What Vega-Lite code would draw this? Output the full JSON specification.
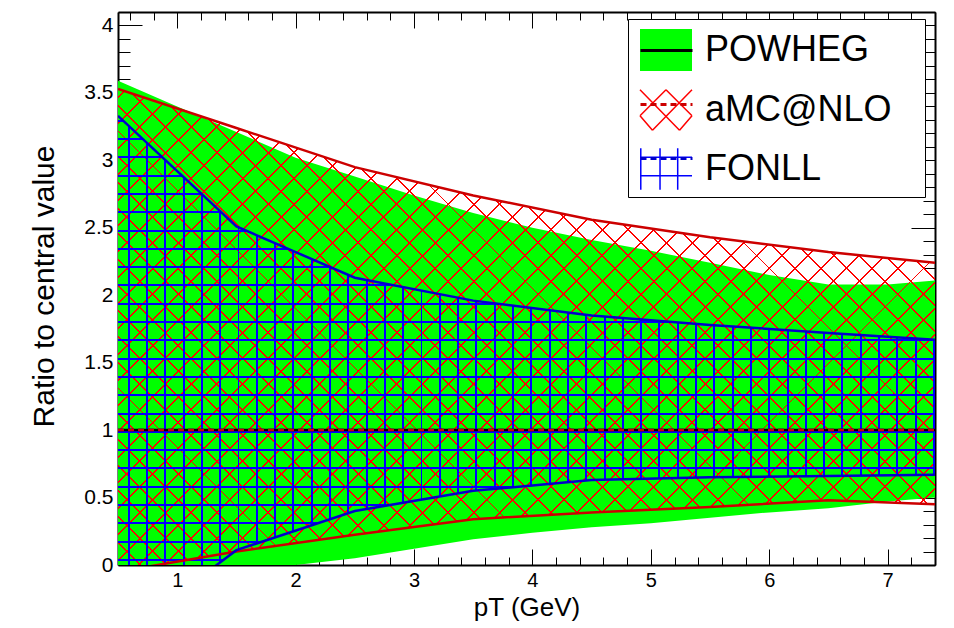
{
  "$schema": "https://vega.github.io/schema/vega-lite/v6.json",
  "width": 817,
  "height": 553,
  "autosize": {"type": "none"},
  "padding": {"left": 118, "top": 12, "right": 19, "bottom": 63},
  "background": "white",
  "config": {"view": {"stroke": null}, "font": "Liberation Sans", "axis": {"grid": false}},
  "datasets": {
    "bands": [
      {"model": "POWHEG", "pt": 0.5, "lo": 0, "hi": 3.59},
      {"model": "POWHEG", "pt": 1, "lo": 0, "hi": 3.4},
      {"model": "POWHEG", "pt": 1.5, "lo": 0, "hi": 3.21},
      {"model": "POWHEG", "pt": 2, "lo": 0, "hi": 3.02},
      {"model": "POWHEG", "pt": 2.5, "lo": 0.05, "hi": 2.88},
      {"model": "POWHEG", "pt": 3, "lo": 0.12, "hi": 2.74},
      {"model": "POWHEG", "pt": 3.5, "lo": 0.19, "hi": 2.61},
      {"model": "POWHEG", "pt": 4, "lo": 0.24, "hi": 2.5},
      {"model": "POWHEG", "pt": 4.5, "lo": 0.28, "hi": 2.41},
      {"model": "POWHEG", "pt": 5, "lo": 0.31, "hi": 2.33},
      {"model": "POWHEG", "pt": 5.5, "lo": 0.35, "hi": 2.24},
      {"model": "POWHEG", "pt": 6, "lo": 0.39, "hi": 2.15},
      {"model": "POWHEG", "pt": 6.5, "lo": 0.42, "hi": 2.08},
      {"model": "POWHEG", "pt": 7, "lo": 0.47, "hi": 2.08},
      {"model": "POWHEG", "pt": 7.4, "lo": 0.5, "hi": 2.11},
      {"model": "aMC@NLO", "pt": 0.5, "lo": -0.05, "hi": 3.53},
      {"model": "aMC@NLO", "pt": 1.5, "lo": 0.1, "hi": 3.24},
      {"model": "aMC@NLO", "pt": 2.5, "lo": 0.225, "hi": 2.95},
      {"model": "aMC@NLO", "pt": 3.5, "lo": 0.34, "hi": 2.74},
      {"model": "aMC@NLO", "pt": 4.5, "lo": 0.39, "hi": 2.56},
      {"model": "aMC@NLO", "pt": 5.5, "lo": 0.43, "hi": 2.43},
      {"model": "aMC@NLO", "pt": 6.5, "lo": 0.48, "hi": 2.32},
      {"model": "aMC@NLO", "pt": 7.4, "lo": 0.45, "hi": 2.24},
      {"model": "FONLL", "pt": 0.5, "lo": -0.55, "hi": 3.33},
      {"model": "FONLL", "pt": 1.5, "lo": 0.11, "hi": 2.51},
      {"model": "FONLL", "pt": 2.5, "lo": 0.4, "hi": 2.13},
      {"model": "FONLL", "pt": 3.5, "lo": 0.55, "hi": 1.96},
      {"model": "FONLL", "pt": 4.5, "lo": 0.63, "hi": 1.85},
      {"model": "FONLL", "pt": 5.5, "lo": 0.65, "hi": 1.78},
      {"model": "FONLL", "pt": 6.5, "lo": 0.66, "hi": 1.72},
      {"model": "FONLL", "pt": 7.4, "lo": 0.67, "hi": 1.67}
    ]
  },
  "data": {"name": "bands"},
  "layer": [
    {
      "transform": [{"filter": "datum.model === 'POWHEG'"}],
      "mark": {"type": "area", "clip": true, "opacity": 1},
      "encoding": {
        "x": {"field": "pt", "type": "quantitative", "scale": {"domain": [0.5, 7.4], "nice": false, "zero": false},
          "axis": {"orient": "bottom", "values": [0.6,0.8,1,1.2,1.4,1.6,1.8,2,2.2,2.4,2.6,2.8,3,3.2,3.4,3.6,3.8,4,4.2,4.4,4.6,4.8,5,5.2,5.4,5.6,5.8,6,6.2,6.4,6.6,6.8,7,7.2,7.4],
            "format": "~g", "labelExpr": "datum.value % 1 === 0 ? datum.label : ''",
            "tickSize": {"condition": {"test": "datum.value % 1 === 0", "value": -16}, "value": -8},
            "tickColor": "black", "tickWidth": 1, "domainColor": "black", "domainWidth": 2,
            "labelFontSize": 20, "labelColor": "black", "labelBaseline": "alphabetic", "labelAlign": "center", "labelPadding": 37,
            "labelFlush": false, "labelOverlap": false,
            "title": "pT (GeV)", "titleFontSize": 26, "titleFontWeight": "normal", "titleColor": "black",
            "titleX": 408.5, "titleY": 50, "titleBaseline": "alphabetic", "titleAlign": "center", "grid": false}},
        "y": {"field": "lo", "type": "quantitative", "scale": {"domain": [0, 4.1], "nice": false, "zero": false},
          "axis": {"orient": "left", "values": [0,0.1,0.2,0.3,0.4,0.5,0.6,0.7,0.8,0.9,1,1.1,1.2,1.3,1.4,1.5,1.6,1.7,1.8,1.9,2,2.1,2.2,2.3,2.4,2.5,2.6,2.7,2.8,2.9,3,3.1,3.2,3.3,3.4,3.5,3.6,3.7,3.8,3.9,4,4.1],
            "format": "~g", "labelExpr": "datum.value * 2 % 1 === 0 ? datum.label : ''",
            "tickSize": {"condition": {"test": "datum.value * 2 % 1 === 0", "value": -24}, "value": -12},
            "tickColor": "black", "tickWidth": 1, "domainColor": "black", "domainWidth": 2,
            "labelFontSize": 21, "labelColor": "black", "labelPadding": 29, "labelAlign": "right", "labelBaseline": "middle",
            "labelFlush": false, "labelOverlap": false,
            "title": "Ratio to central value", "titleFontSize": 30, "titleFontWeight": "normal", "titleColor": "black",
            "titleX": -65, "titleY": 274, "titleAngle": -90, "titleBaseline": "alphabetic", "titleAlign": "center", "grid": false}},
        "y2": {"field": "hi"},
        "fill": {"field": "model", "type": "nominal",
          "scale": {"domain": ["POWHEG", "FONLL", "aMC@NLO"], "range": ["#00ff00", "#ffffff", "#ffffff"]},
          "legend": {"orient": "none", "legendX": 510, "legendY": 7, "values": ["POWHEG", "aMC@NLO", "FONLL"],
            "title": "\u2800", "titleOrient": "right", "titlePadding": 3, "titleFontSize": 36, "titleFontWeight": "normal", "titleColor": "white",
            "symbolSize": 2704, "symbolOpacity": 1, "labelFontSize": 36, "labelLimit": 400, "labelOffset": 12, "labelColor": "black",
            "rowPadding": 8, "padding": 4, "symbolOffset": 7, "fillColor": "white", "strokeColor": "black", "zindex": 1,
            "encode": {"symbols": {"update": {
              "shape": [
                {"test": "datum.value === 'POWHEG'", "value": "M-1,-0.81H1V0.81H-1Z"},
                {"test": "datum.value === 'aMC@NLO'", "value": "M-1,-0.78L0.52,0.78M0,-0.78L1,0.22M1,-0.78L-0.52,0.78M0,-0.78L-1,0.22M-1,0.22L-0.52,0.78M1,0.22L0.52,0.78"},
                {"value": "M-0.97,-0.8V0.8M-0.23,-0.8V0.8M0.45,-0.8V0.8M-1,-0.45H1M-1,0.26H1"}],
              "stroke": [
                {"test": "datum.value === 'POWHEG'", "value": "transparent"},
                {"test": "datum.value === 'aMC@NLO'", "value": "#ff0000"},
                {"value": "#0000ff"}],
              "strokeWidth": {"value": 1.5},
              "opacity": {"value": 1}
            }}}}}
      }
    },
    {
      "transform": [{"filter": "datum.model === 'aMC@NLO'"}],
      "mark": {"type": "area", "clip": true, "fill": {"gradient": "linear", "x1": 0, "y1": 0, "x2": 1.1792, "y2": 0.6969, "stops": [
        {"offset":0.0058,"color":"transparent"},{"offset":0.0058,"color":"red"},{"offset":0.0073,"color":"red"},{"offset":0.0073,"color":"transparent"},
        {"offset":0.0256,"color":"transparent"},{"offset":0.0256,"color":"red"},{"offset":0.0271,"color":"red"},{"offset":0.0271,"color":"transparent"},
        {"offset":0.0454,"color":"transparent"},{"offset":0.0454,"color":"red"},{"offset":0.0469,"color":"red"},{"offset":0.0469,"color":"transparent"},
        {"offset":0.0652,"color":"transparent"},{"offset":0.0652,"color":"red"},{"offset":0.0667,"color":"red"},{"offset":0.0667,"color":"transparent"},
        {"offset":0.0849,"color":"transparent"},{"offset":0.0849,"color":"red"},{"offset":0.0864,"color":"red"},{"offset":0.0864,"color":"transparent"},
        {"offset":0.1047,"color":"transparent"},{"offset":0.1047,"color":"red"},{"offset":0.1062,"color":"red"},{"offset":0.1062,"color":"transparent"},
        {"offset":0.1245,"color":"transparent"},{"offset":0.1245,"color":"red"},{"offset":0.126,"color":"red"},{"offset":0.126,"color":"transparent"},
        {"offset":0.1442,"color":"transparent"},{"offset":0.1442,"color":"red"},{"offset":0.1457,"color":"red"},{"offset":0.1457,"color":"transparent"},
        {"offset":0.164,"color":"transparent"},{"offset":0.164,"color":"red"},{"offset":0.1655,"color":"red"},{"offset":0.1655,"color":"transparent"},
        {"offset":0.1838,"color":"transparent"},{"offset":0.1838,"color":"red"},{"offset":0.1853,"color":"red"},{"offset":0.1853,"color":"transparent"},
        {"offset":0.2036,"color":"transparent"},{"offset":0.2036,"color":"red"},{"offset":0.2051,"color":"red"},{"offset":0.2051,"color":"transparent"},
        {"offset":0.2233,"color":"transparent"},{"offset":0.2233,"color":"red"},{"offset":0.2248,"color":"red"},{"offset":0.2248,"color":"transparent"},
        {"offset":0.2431,"color":"transparent"},{"offset":0.2431,"color":"red"},{"offset":0.2446,"color":"red"},{"offset":0.2446,"color":"transparent"},
        {"offset":0.2629,"color":"transparent"},{"offset":0.2629,"color":"red"},{"offset":0.2644,"color":"red"},{"offset":0.2644,"color":"transparent"},
        {"offset":0.2826,"color":"transparent"},{"offset":0.2826,"color":"red"},{"offset":0.2841,"color":"red"},{"offset":0.2841,"color":"transparent"},
        {"offset":0.3024,"color":"transparent"},{"offset":0.3024,"color":"red"},{"offset":0.3039,"color":"red"},{"offset":0.3039,"color":"transparent"},
        {"offset":0.3222,"color":"transparent"},{"offset":0.3222,"color":"red"},{"offset":0.3237,"color":"red"},{"offset":0.3237,"color":"transparent"},
        {"offset":0.342,"color":"transparent"},{"offset":0.342,"color":"red"},{"offset":0.3435,"color":"red"},{"offset":0.3435,"color":"transparent"},
        {"offset":0.3617,"color":"transparent"},{"offset":0.3617,"color":"red"},{"offset":0.3632,"color":"red"},{"offset":0.3632,"color":"transparent"},
        {"offset":0.3815,"color":"transparent"},{"offset":0.3815,"color":"red"},{"offset":0.383,"color":"red"},{"offset":0.383,"color":"transparent"},
        {"offset":0.4013,"color":"transparent"},{"offset":0.4013,"color":"red"},{"offset":0.4028,"color":"red"},{"offset":0.4028,"color":"transparent"},
        {"offset":0.421,"color":"transparent"},{"offset":0.421,"color":"red"},{"offset":0.4225,"color":"red"},{"offset":0.4225,"color":"transparent"},
        {"offset":0.4408,"color":"transparent"},{"offset":0.4408,"color":"red"},{"offset":0.4423,"color":"red"},{"offset":0.4423,"color":"transparent"},
        {"offset":0.4606,"color":"transparent"},{"offset":0.4606,"color":"red"},{"offset":0.4621,"color":"red"},{"offset":0.4621,"color":"transparent"},
        {"offset":0.4804,"color":"transparent"},{"offset":0.4804,"color":"red"},{"offset":0.4819,"color":"red"},{"offset":0.4819,"color":"transparent"},
        {"offset":0.5001,"color":"transparent"},{"offset":0.5001,"color":"red"},{"offset":0.5016,"color":"red"},{"offset":0.5016,"color":"transparent"},
        {"offset":0.5199,"color":"transparent"},{"offset":0.5199,"color":"red"},{"offset":0.5214,"color":"red"},{"offset":0.5214,"color":"transparent"},
        {"offset":0.5397,"color":"transparent"},{"offset":0.5397,"color":"red"},{"offset":0.5412,"color":"red"},{"offset":0.5412,"color":"transparent"},
        {"offset":0.5594,"color":"transparent"},{"offset":0.5594,"color":"red"},{"offset":0.5609,"color":"red"},{"offset":0.5609,"color":"transparent"},
        {"offset":0.5792,"color":"transparent"},{"offset":0.5792,"color":"red"},{"offset":0.5807,"color":"red"},{"offset":0.5807,"color":"transparent"},
        {"offset":0.599,"color":"transparent"},{"offset":0.599,"color":"red"},{"offset":0.6005,"color":"red"},{"offset":0.6005,"color":"transparent"},
        {"offset":0.6187,"color":"transparent"},{"offset":0.6187,"color":"red"},{"offset":0.6202,"color":"red"},{"offset":0.6202,"color":"transparent"},
        {"offset":0.6385,"color":"transparent"},{"offset":0.6385,"color":"red"},{"offset":0.64,"color":"red"},{"offset":0.64,"color":"transparent"},
        {"offset":0.6583,"color":"transparent"},{"offset":0.6583,"color":"red"},{"offset":0.6598,"color":"red"},{"offset":0.6598,"color":"transparent"},
        {"offset":0.6781,"color":"transparent"},{"offset":0.6781,"color":"red"},{"offset":0.6796,"color":"red"},{"offset":0.6796,"color":"transparent"},
        {"offset":0.6978,"color":"transparent"},{"offset":0.6978,"color":"red"},{"offset":0.6993,"color":"red"},{"offset":0.6993,"color":"transparent"},
        {"offset":0.7176,"color":"transparent"},{"offset":0.7176,"color":"red"},{"offset":0.7191,"color":"red"},{"offset":0.7191,"color":"transparent"},
        {"offset":0.7374,"color":"transparent"},{"offset":0.7374,"color":"red"},{"offset":0.7389,"color":"red"},{"offset":0.7389,"color":"transparent"},
        {"offset":0.7571,"color":"transparent"},{"offset":0.7571,"color":"red"},{"offset":0.7586,"color":"red"},{"offset":0.7586,"color":"transparent"},
        {"offset":0.7769,"color":"transparent"},{"offset":0.7769,"color":"red"},{"offset":0.7784,"color":"red"},{"offset":0.7784,"color":"transparent"},
        {"offset":0.7967,"color":"transparent"},{"offset":0.7967,"color":"red"},{"offset":0.7982,"color":"red"},{"offset":0.7982,"color":"transparent"},
        {"offset":0.8165,"color":"transparent"},{"offset":0.8165,"color":"red"},{"offset":0.818,"color":"red"},{"offset":0.818,"color":"transparent"},
        {"offset":0.8362,"color":"transparent"},{"offset":0.8362,"color":"red"},{"offset":0.8377,"color":"red"},{"offset":0.8377,"color":"transparent"},
        {"offset":0.856,"color":"transparent"},{"offset":0.856,"color":"red"},{"offset":0.8575,"color":"red"},{"offset":0.8575,"color":"transparent"},
        {"offset":0.8758,"color":"transparent"},{"offset":0.8758,"color":"red"},{"offset":0.8773,"color":"red"},{"offset":0.8773,"color":"transparent"},
        {"offset":0.8955,"color":"transparent"},{"offset":0.8955,"color":"red"},{"offset":0.897,"color":"red"},{"offset":0.897,"color":"transparent"},
        {"offset":0.9153,"color":"transparent"},{"offset":0.9153,"color":"red"},{"offset":0.9168,"color":"red"},{"offset":0.9168,"color":"transparent"},
        {"offset":0.9351,"color":"transparent"},{"offset":0.9351,"color":"red"},{"offset":0.9366,"color":"red"},{"offset":0.9366,"color":"transparent"},
        {"offset":0.9549,"color":"transparent"},{"offset":0.9549,"color":"red"},{"offset":0.9564,"color":"red"},{"offset":0.9564,"color":"transparent"},
        {"offset":0.9746,"color":"transparent"},{"offset":0.9746,"color":"red"},{"offset":0.9761,"color":"red"},{"offset":0.9761,"color":"transparent"},
        {"offset":0.9944,"color":"transparent"},{"offset":0.9944,"color":"red"},{"offset":0.9959,"color":"red"},{"offset":0.9959,"color":"transparent"}
      ]}},
      "encoding": {
        "x": {"field": "pt", "type": "quantitative", "scale": {"domain": [0.5, 7.4], "nice": false, "zero": false},
          "axis": {"orient": "top", "values": [0.6,0.8,1,1.2,1.4,1.6,1.8,2,2.2,2.4,2.6,2.8,3,3.2,3.4,3.6,3.8,4,4.2,4.4,4.6,4.8,5,5.2,5.4,5.6,5.8,6,6.2,6.4,6.6,6.8,7,7.2,7.4],
            "labels": false, "tickSize": {"condition": {"test": "datum.value % 1 === 0", "value": -16}, "value": -8},
            "tickColor": "black", "tickWidth": 1, "domainColor": "black", "domainWidth": 2, "title": null, "grid": false}},
        "y": {"field": "lo", "type": "quantitative", "scale": {"domain": [0, 4.1], "nice": false, "zero": false},
          "axis": {"orient": "right", "values": [0,0.1,0.2,0.3,0.4,0.5,0.6,0.7,0.8,0.9,1,1.1,1.2,1.3,1.4,1.5,1.6,1.7,1.8,1.9,2,2.1,2.2,2.3,2.4,2.5,2.6,2.7,2.8,2.9,3,3.1,3.2,3.3,3.4,3.5,3.6,3.7,3.8,3.9,4,4.1],
            "labels": false, "tickSize": {"condition": {"test": "datum.value * 2 % 1 === 0", "value": -24}, "value": -12},
            "tickColor": "black", "tickWidth": 1, "domainColor": "black", "domainWidth": 2, "title": null, "grid": false}},
        "y2": {"field": "hi"}
      }
    },
    {
      "transform": [{"filter": "datum.model === 'aMC@NLO'"}],
      "mark": {"type": "area", "clip": true, "fill": {"gradient": "linear", "x1": 0, "y1": 1, "x2": 1.1792, "y2": 0.3031, "stops": [
        {"offset":0.0022,"color":"transparent"},{"offset":0.0022,"color":"red"},{"offset":0.0037,"color":"red"},{"offset":0.0037,"color":"transparent"},
        {"offset":0.0219,"color":"transparent"},{"offset":0.0219,"color":"red"},{"offset":0.0234,"color":"red"},{"offset":0.0234,"color":"transparent"},
        {"offset":0.0417,"color":"transparent"},{"offset":0.0417,"color":"red"},{"offset":0.0432,"color":"red"},{"offset":0.0432,"color":"transparent"},
        {"offset":0.0615,"color":"transparent"},{"offset":0.0615,"color":"red"},{"offset":0.063,"color":"red"},{"offset":0.063,"color":"transparent"},
        {"offset":0.0812,"color":"transparent"},{"offset":0.0812,"color":"red"},{"offset":0.0827,"color":"red"},{"offset":0.0827,"color":"transparent"},
        {"offset":0.101,"color":"transparent"},{"offset":0.101,"color":"red"},{"offset":0.1025,"color":"red"},{"offset":0.1025,"color":"transparent"},
        {"offset":0.1208,"color":"transparent"},{"offset":0.1208,"color":"red"},{"offset":0.1223,"color":"red"},{"offset":0.1223,"color":"transparent"},
        {"offset":0.1406,"color":"transparent"},{"offset":0.1406,"color":"red"},{"offset":0.1421,"color":"red"},{"offset":0.1421,"color":"transparent"},
        {"offset":0.1603,"color":"transparent"},{"offset":0.1603,"color":"red"},{"offset":0.1618,"color":"red"},{"offset":0.1618,"color":"transparent"},
        {"offset":0.1801,"color":"transparent"},{"offset":0.1801,"color":"red"},{"offset":0.1816,"color":"red"},{"offset":0.1816,"color":"transparent"},
        {"offset":0.1999,"color":"transparent"},{"offset":0.1999,"color":"red"},{"offset":0.2014,"color":"red"},{"offset":0.2014,"color":"transparent"},
        {"offset":0.2196,"color":"transparent"},{"offset":0.2196,"color":"red"},{"offset":0.2211,"color":"red"},{"offset":0.2211,"color":"transparent"},
        {"offset":0.2394,"color":"transparent"},{"offset":0.2394,"color":"red"},{"offset":0.2409,"color":"red"},{"offset":0.2409,"color":"transparent"},
        {"offset":0.2592,"color":"transparent"},{"offset":0.2592,"color":"red"},{"offset":0.2607,"color":"red"},{"offset":0.2607,"color":"transparent"},
        {"offset":0.279,"color":"transparent"},{"offset":0.279,"color":"red"},{"offset":0.2805,"color":"red"},{"offset":0.2805,"color":"transparent"},
        {"offset":0.2987,"color":"transparent"},{"offset":0.2987,"color":"red"},{"offset":0.3002,"color":"red"},{"offset":0.3002,"color":"transparent"},
        {"offset":0.3185,"color":"transparent"},{"offset":0.3185,"color":"red"},{"offset":0.32,"color":"red"},{"offset":0.32,"color":"transparent"},
        {"offset":0.3383,"color":"transparent"},{"offset":0.3383,"color":"red"},{"offset":0.3398,"color":"red"},{"offset":0.3398,"color":"transparent"},
        {"offset":0.358,"color":"transparent"},{"offset":0.358,"color":"red"},{"offset":0.3595,"color":"red"},{"offset":0.3595,"color":"transparent"},
        {"offset":0.3778,"color":"transparent"},{"offset":0.3778,"color":"red"},{"offset":0.3793,"color":"red"},{"offset":0.3793,"color":"transparent"},
        {"offset":0.3976,"color":"transparent"},{"offset":0.3976,"color":"red"},{"offset":0.3991,"color":"red"},{"offset":0.3991,"color":"transparent"},
        {"offset":0.4174,"color":"transparent"},{"offset":0.4174,"color":"red"},{"offset":0.4189,"color":"red"},{"offset":0.4189,"color":"transparent"},
        {"offset":0.4371,"color":"transparent"},{"offset":0.4371,"color":"red"},{"offset":0.4386,"color":"red"},{"offset":0.4386,"color":"transparent"},
        {"offset":0.4569,"color":"transparent"},{"offset":0.4569,"color":"red"},{"offset":0.4584,"color":"red"},{"offset":0.4584,"color":"transparent"},
        {"offset":0.4767,"color":"transparent"},{"offset":0.4767,"color":"red"},{"offset":0.4782,"color":"red"},{"offset":0.4782,"color":"transparent"},
        {"offset":0.4964,"color":"transparent"},{"offset":0.4964,"color":"red"},{"offset":0.4979,"color":"red"},{"offset":0.4979,"color":"transparent"},
        {"offset":0.5162,"color":"transparent"},{"offset":0.5162,"color":"red"},{"offset":0.5177,"color":"red"},{"offset":0.5177,"color":"transparent"},
        {"offset":0.536,"color":"transparent"},{"offset":0.536,"color":"red"},{"offset":0.5375,"color":"red"},{"offset":0.5375,"color":"transparent"},
        {"offset":0.5558,"color":"transparent"},{"offset":0.5558,"color":"red"},{"offset":0.5573,"color":"red"},{"offset":0.5573,"color":"transparent"},
        {"offset":0.5755,"color":"transparent"},{"offset":0.5755,"color":"red"},{"offset":0.577,"color":"red"},{"offset":0.577,"color":"transparent"},
        {"offset":0.5953,"color":"transparent"},{"offset":0.5953,"color":"red"},{"offset":0.5968,"color":"red"},{"offset":0.5968,"color":"transparent"},
        {"offset":0.6151,"color":"transparent"},{"offset":0.6151,"color":"red"},{"offset":0.6166,"color":"red"},{"offset":0.6166,"color":"transparent"},
        {"offset":0.6348,"color":"transparent"},{"offset":0.6348,"color":"red"},{"offset":0.6363,"color":"red"},{"offset":0.6363,"color":"transparent"},
        {"offset":0.6546,"color":"transparent"},{"offset":0.6546,"color":"red"},{"offset":0.6561,"color":"red"},{"offset":0.6561,"color":"transparent"},
        {"offset":0.6744,"color":"transparent"},{"offset":0.6744,"color":"red"},{"offset":0.6759,"color":"red"},{"offset":0.6759,"color":"transparent"},
        {"offset":0.6942,"color":"transparent"},{"offset":0.6942,"color":"red"},{"offset":0.6957,"color":"red"},{"offset":0.6957,"color":"transparent"},
        {"offset":0.7139,"color":"transparent"},{"offset":0.7139,"color":"red"},{"offset":0.7154,"color":"red"},{"offset":0.7154,"color":"transparent"},
        {"offset":0.7337,"color":"transparent"},{"offset":0.7337,"color":"red"},{"offset":0.7352,"color":"red"},{"offset":0.7352,"color":"transparent"},
        {"offset":0.7535,"color":"transparent"},{"offset":0.7535,"color":"red"},{"offset":0.755,"color":"red"},{"offset":0.755,"color":"transparent"},
        {"offset":0.7732,"color":"transparent"},{"offset":0.7732,"color":"red"},{"offset":0.7747,"color":"red"},{"offset":0.7747,"color":"transparent"},
        {"offset":0.793,"color":"transparent"},{"offset":0.793,"color":"red"},{"offset":0.7945,"color":"red"},{"offset":0.7945,"color":"transparent"},
        {"offset":0.8128,"color":"transparent"},{"offset":0.8128,"color":"red"},{"offset":0.8143,"color":"red"},{"offset":0.8143,"color":"transparent"},
        {"offset":0.8326,"color":"transparent"},{"offset":0.8326,"color":"red"},{"offset":0.8341,"color":"red"},{"offset":0.8341,"color":"transparent"},
        {"offset":0.8523,"color":"transparent"},{"offset":0.8523,"color":"red"},{"offset":0.8538,"color":"red"},{"offset":0.8538,"color":"transparent"},
        {"offset":0.8721,"color":"transparent"},{"offset":0.8721,"color":"red"},{"offset":0.8736,"color":"red"},{"offset":0.8736,"color":"transparent"},
        {"offset":0.8919,"color":"transparent"},{"offset":0.8919,"color":"red"},{"offset":0.8934,"color":"red"},{"offset":0.8934,"color":"transparent"},
        {"offset":0.9116,"color":"transparent"},{"offset":0.9116,"color":"red"},{"offset":0.9131,"color":"red"},{"offset":0.9131,"color":"transparent"},
        {"offset":0.9314,"color":"transparent"},{"offset":0.9314,"color":"red"},{"offset":0.9329,"color":"red"},{"offset":0.9329,"color":"transparent"},
        {"offset":0.9512,"color":"transparent"},{"offset":0.9512,"color":"red"},{"offset":0.9527,"color":"red"},{"offset":0.9527,"color":"transparent"},
        {"offset":0.971,"color":"transparent"},{"offset":0.971,"color":"red"},{"offset":0.9725,"color":"red"},{"offset":0.9725,"color":"transparent"},
        {"offset":0.9907,"color":"transparent"},{"offset":0.9907,"color":"red"},{"offset":0.9922,"color":"red"},{"offset":0.9922,"color":"transparent"}
      ]}},
      "encoding": {
        "x": {"field": "pt", "type": "quantitative", "scale": {"domain": [0.5, 7.4], "nice": false, "zero": false}, "axis": null},
        "y": {"field": "lo", "type": "quantitative", "scale": {"domain": [0, 4.1], "nice": false, "zero": false}, "axis": null},
        "y2": {"field": "hi"}
      }
    },
    {
      "transform": [{"filter": "datum.model === 'FONLL'"}],
      "mark": {"type": "area", "clip": true, "fill": {"gradient": "linear", "x1": 0, "y1": 0, "x2": 1, "y2": 0, "stops": [
        {"offset":0.0119,"color":"transparent"},{"offset":0.0119,"color":"blue"},{"offset":0.0143,"color":"blue"},{"offset":0.0143,"color":"transparent"},
        {"offset":0.0343,"color":"transparent"},{"offset":0.0343,"color":"blue"},{"offset":0.0367,"color":"blue"},{"offset":0.0367,"color":"transparent"},
        {"offset":0.0567,"color":"transparent"},{"offset":0.0567,"color":"blue"},{"offset":0.0591,"color":"blue"},{"offset":0.0591,"color":"transparent"},
        {"offset":0.0791,"color":"transparent"},{"offset":0.0791,"color":"blue"},{"offset":0.0815,"color":"blue"},{"offset":0.0815,"color":"transparent"},
        {"offset":0.1015,"color":"transparent"},{"offset":0.1015,"color":"blue"},{"offset":0.1039,"color":"blue"},{"offset":0.1039,"color":"transparent"},
        {"offset":0.1239,"color":"transparent"},{"offset":0.1239,"color":"blue"},{"offset":0.1263,"color":"blue"},{"offset":0.1263,"color":"transparent"},
        {"offset":0.1463,"color":"transparent"},{"offset":0.1463,"color":"blue"},{"offset":0.1487,"color":"blue"},{"offset":0.1487,"color":"transparent"},
        {"offset":0.1687,"color":"transparent"},{"offset":0.1687,"color":"blue"},{"offset":0.1711,"color":"blue"},{"offset":0.1711,"color":"transparent"},
        {"offset":0.1911,"color":"transparent"},{"offset":0.1911,"color":"blue"},{"offset":0.1935,"color":"blue"},{"offset":0.1935,"color":"transparent"},
        {"offset":0.2135,"color":"transparent"},{"offset":0.2135,"color":"blue"},{"offset":0.2159,"color":"blue"},{"offset":0.2159,"color":"transparent"},
        {"offset":0.2359,"color":"transparent"},{"offset":0.2359,"color":"blue"},{"offset":0.2383,"color":"blue"},{"offset":0.2383,"color":"transparent"},
        {"offset":0.2583,"color":"transparent"},{"offset":0.2583,"color":"blue"},{"offset":0.2607,"color":"blue"},{"offset":0.2607,"color":"transparent"},
        {"offset":0.2807,"color":"transparent"},{"offset":0.2807,"color":"blue"},{"offset":0.2831,"color":"blue"},{"offset":0.2831,"color":"transparent"},
        {"offset":0.3031,"color":"transparent"},{"offset":0.3031,"color":"blue"},{"offset":0.3055,"color":"blue"},{"offset":0.3055,"color":"transparent"},
        {"offset":0.3255,"color":"transparent"},{"offset":0.3255,"color":"blue"},{"offset":0.3279,"color":"blue"},{"offset":0.3279,"color":"transparent"},
        {"offset":0.3479,"color":"transparent"},{"offset":0.3479,"color":"blue"},{"offset":0.3503,"color":"blue"},{"offset":0.3503,"color":"transparent"},
        {"offset":0.3703,"color":"transparent"},{"offset":0.3703,"color":"blue"},{"offset":0.3727,"color":"blue"},{"offset":0.3727,"color":"transparent"},
        {"offset":0.3927,"color":"transparent"},{"offset":0.3927,"color":"blue"},{"offset":0.3951,"color":"blue"},{"offset":0.3951,"color":"transparent"},
        {"offset":0.4151,"color":"transparent"},{"offset":0.4151,"color":"blue"},{"offset":0.4175,"color":"blue"},{"offset":0.4175,"color":"transparent"},
        {"offset":0.4375,"color":"transparent"},{"offset":0.4375,"color":"blue"},{"offset":0.4399,"color":"blue"},{"offset":0.4399,"color":"transparent"},
        {"offset":0.4599,"color":"transparent"},{"offset":0.4599,"color":"blue"},{"offset":0.4623,"color":"blue"},{"offset":0.4623,"color":"transparent"},
        {"offset":0.4823,"color":"transparent"},{"offset":0.4823,"color":"blue"},{"offset":0.4847,"color":"blue"},{"offset":0.4847,"color":"transparent"},
        {"offset":0.5047,"color":"transparent"},{"offset":0.5047,"color":"blue"},{"offset":0.5071,"color":"blue"},{"offset":0.5071,"color":"transparent"},
        {"offset":0.5271,"color":"transparent"},{"offset":0.5271,"color":"blue"},{"offset":0.5295,"color":"blue"},{"offset":0.5295,"color":"transparent"},
        {"offset":0.5495,"color":"transparent"},{"offset":0.5495,"color":"blue"},{"offset":0.5519,"color":"blue"},{"offset":0.5519,"color":"transparent"},
        {"offset":0.5719,"color":"transparent"},{"offset":0.5719,"color":"blue"},{"offset":0.5743,"color":"blue"},{"offset":0.5743,"color":"transparent"},
        {"offset":0.5943,"color":"transparent"},{"offset":0.5943,"color":"blue"},{"offset":0.5967,"color":"blue"},{"offset":0.5967,"color":"transparent"},
        {"offset":0.6167,"color":"transparent"},{"offset":0.6167,"color":"blue"},{"offset":0.6191,"color":"blue"},{"offset":0.6191,"color":"transparent"},
        {"offset":0.6391,"color":"transparent"},{"offset":0.6391,"color":"blue"},{"offset":0.6415,"color":"blue"},{"offset":0.6415,"color":"transparent"},
        {"offset":0.6615,"color":"transparent"},{"offset":0.6615,"color":"blue"},{"offset":0.6639,"color":"blue"},{"offset":0.6639,"color":"transparent"},
        {"offset":0.6839,"color":"transparent"},{"offset":0.6839,"color":"blue"},{"offset":0.6863,"color":"blue"},{"offset":0.6863,"color":"transparent"},
        {"offset":0.7063,"color":"transparent"},{"offset":0.7063,"color":"blue"},{"offset":0.7087,"color":"blue"},{"offset":0.7087,"color":"transparent"},
        {"offset":0.7287,"color":"transparent"},{"offset":0.7287,"color":"blue"},{"offset":0.7311,"color":"blue"},{"offset":0.7311,"color":"transparent"},
        {"offset":0.7511,"color":"transparent"},{"offset":0.7511,"color":"blue"},{"offset":0.7535,"color":"blue"},{"offset":0.7535,"color":"transparent"},
        {"offset":0.7735,"color":"transparent"},{"offset":0.7735,"color":"blue"},{"offset":0.7759,"color":"blue"},{"offset":0.7759,"color":"transparent"},
        {"offset":0.7959,"color":"transparent"},{"offset":0.7959,"color":"blue"},{"offset":0.7983,"color":"blue"},{"offset":0.7983,"color":"transparent"},
        {"offset":0.8183,"color":"transparent"},{"offset":0.8183,"color":"blue"},{"offset":0.8207,"color":"blue"},{"offset":0.8207,"color":"transparent"},
        {"offset":0.8407,"color":"transparent"},{"offset":0.8407,"color":"blue"},{"offset":0.8431,"color":"blue"},{"offset":0.8431,"color":"transparent"},
        {"offset":0.8631,"color":"transparent"},{"offset":0.8631,"color":"blue"},{"offset":0.8655,"color":"blue"},{"offset":0.8655,"color":"transparent"},
        {"offset":0.8855,"color":"transparent"},{"offset":0.8855,"color":"blue"},{"offset":0.8879,"color":"blue"},{"offset":0.8879,"color":"transparent"},
        {"offset":0.9079,"color":"transparent"},{"offset":0.9079,"color":"blue"},{"offset":0.9103,"color":"blue"},{"offset":0.9103,"color":"transparent"},
        {"offset":0.9303,"color":"transparent"},{"offset":0.9303,"color":"blue"},{"offset":0.9327,"color":"blue"},{"offset":0.9327,"color":"transparent"},
        {"offset":0.9527,"color":"transparent"},{"offset":0.9527,"color":"blue"},{"offset":0.9551,"color":"blue"},{"offset":0.9551,"color":"transparent"},
        {"offset":0.9751,"color":"transparent"},{"offset":0.9751,"color":"blue"},{"offset":0.9775,"color":"blue"},{"offset":0.9775,"color":"transparent"},
        {"offset":0.9975,"color":"transparent"},{"offset":0.9975,"color":"blue"},{"offset":0.9999,"color":"blue"},{"offset":0.9999,"color":"transparent"}
      ]}},
      "encoding": {
        "x": {"field": "pt", "type": "quantitative", "scale": {"domain": [0.5, 7.4], "nice": false, "zero": false}, "axis": null},
        "y": {"field": "lo", "type": "quantitative", "scale": {"domain": [0, 4.1], "nice": false, "zero": false}, "axis": null},
        "y2": {"field": "hi"}
      }
    },
    {
      "transform": [{"filter": "datum.model === 'FONLL'"}],
      "mark": {"type": "area", "clip": true, "fill": {"gradient": "linear", "x1": 0, "y1": 0, "x2": 0, "y2": 1, "stops": [
        {"offset":0.0076,"color":"transparent"},{"offset":0.0076,"color":"blue"},{"offset":0.0114,"color":"blue"},{"offset":0.0114,"color":"transparent"},
        {"offset":0.0426,"color":"transparent"},{"offset":0.0426,"color":"blue"},{"offset":0.0464,"color":"blue"},{"offset":0.0464,"color":"transparent"},
        {"offset":0.0775,"color":"transparent"},{"offset":0.0775,"color":"blue"},{"offset":0.0813,"color":"blue"},{"offset":0.0813,"color":"transparent"},
        {"offset":0.1125,"color":"transparent"},{"offset":0.1125,"color":"blue"},{"offset":0.1163,"color":"blue"},{"offset":0.1163,"color":"transparent"},
        {"offset":0.1474,"color":"transparent"},{"offset":0.1474,"color":"blue"},{"offset":0.1512,"color":"blue"},{"offset":0.1512,"color":"transparent"},
        {"offset":0.1824,"color":"transparent"},{"offset":0.1824,"color":"blue"},{"offset":0.1862,"color":"blue"},{"offset":0.1862,"color":"transparent"},
        {"offset":0.2174,"color":"transparent"},{"offset":0.2174,"color":"blue"},{"offset":0.2212,"color":"blue"},{"offset":0.2212,"color":"transparent"},
        {"offset":0.2523,"color":"transparent"},{"offset":0.2523,"color":"blue"},{"offset":0.2561,"color":"blue"},{"offset":0.2561,"color":"transparent"},
        {"offset":0.2873,"color":"transparent"},{"offset":0.2873,"color":"blue"},{"offset":0.2911,"color":"blue"},{"offset":0.2911,"color":"transparent"},
        {"offset":0.3222,"color":"transparent"},{"offset":0.3222,"color":"blue"},{"offset":0.326,"color":"blue"},{"offset":0.326,"color":"transparent"},
        {"offset":0.3572,"color":"transparent"},{"offset":0.3572,"color":"blue"},{"offset":0.361,"color":"blue"},{"offset":0.361,"color":"transparent"},
        {"offset":0.3922,"color":"transparent"},{"offset":0.3922,"color":"blue"},{"offset":0.396,"color":"blue"},{"offset":0.396,"color":"transparent"},
        {"offset":0.4271,"color":"transparent"},{"offset":0.4271,"color":"blue"},{"offset":0.4309,"color":"blue"},{"offset":0.4309,"color":"transparent"},
        {"offset":0.4621,"color":"transparent"},{"offset":0.4621,"color":"blue"},{"offset":0.4659,"color":"blue"},{"offset":0.4659,"color":"transparent"},
        {"offset":0.497,"color":"transparent"},{"offset":0.497,"color":"blue"},{"offset":0.5008,"color":"blue"},{"offset":0.5008,"color":"transparent"},
        {"offset":0.532,"color":"transparent"},{"offset":0.532,"color":"blue"},{"offset":0.5358,"color":"blue"},{"offset":0.5358,"color":"transparent"},
        {"offset":0.567,"color":"transparent"},{"offset":0.567,"color":"blue"},{"offset":0.5708,"color":"blue"},{"offset":0.5708,"color":"transparent"},
        {"offset":0.6019,"color":"transparent"},{"offset":0.6019,"color":"blue"},{"offset":0.6057,"color":"blue"},{"offset":0.6057,"color":"transparent"},
        {"offset":0.6369,"color":"transparent"},{"offset":0.6369,"color":"blue"},{"offset":0.6407,"color":"blue"},{"offset":0.6407,"color":"transparent"},
        {"offset":0.6718,"color":"transparent"},{"offset":0.6718,"color":"blue"},{"offset":0.6756,"color":"blue"},{"offset":0.6756,"color":"transparent"},
        {"offset":0.7068,"color":"transparent"},{"offset":0.7068,"color":"blue"},{"offset":0.7106,"color":"blue"},{"offset":0.7106,"color":"transparent"},
        {"offset":0.7418,"color":"transparent"},{"offset":0.7418,"color":"blue"},{"offset":0.7456,"color":"blue"},{"offset":0.7456,"color":"transparent"},
        {"offset":0.7767,"color":"transparent"},{"offset":0.7767,"color":"blue"},{"offset":0.7805,"color":"blue"},{"offset":0.7805,"color":"transparent"},
        {"offset":0.8117,"color":"transparent"},{"offset":0.8117,"color":"blue"},{"offset":0.8155,"color":"blue"},{"offset":0.8155,"color":"transparent"},
        {"offset":0.8466,"color":"transparent"},{"offset":0.8466,"color":"blue"},{"offset":0.8504,"color":"blue"},{"offset":0.8504,"color":"transparent"},
        {"offset":0.8816,"color":"transparent"},{"offset":0.8816,"color":"blue"},{"offset":0.8854,"color":"blue"},{"offset":0.8854,"color":"transparent"},
        {"offset":0.9166,"color":"transparent"},{"offset":0.9166,"color":"blue"},{"offset":0.9204,"color":"blue"},{"offset":0.9204,"color":"transparent"},
        {"offset":0.9515,"color":"transparent"},{"offset":0.9515,"color":"blue"},{"offset":0.9553,"color":"blue"},{"offset":0.9553,"color":"transparent"},
        {"offset":0.9865,"color":"transparent"},{"offset":0.9865,"color":"blue"},{"offset":0.9903,"color":"blue"},{"offset":0.9903,"color":"transparent"}
      ]}},
      "encoding": {
        "x": {"field": "pt", "type": "quantitative", "scale": {"domain": [0.5, 7.4], "nice": false, "zero": false}, "axis": null},
        "y": {"field": "lo", "type": "quantitative", "scale": {"domain": [0, 4.1], "nice": false, "zero": false}, "axis": null},
        "y2": {"field": "hi"}
      }
    },
    {
      "transform": [{"filter": "datum.model !== 'POWHEG'"}],
      "mark": {"type": "line", "clip": true, "strokeWidth": 2.5},
      "encoding": {
        "x": {"field": "pt", "type": "quantitative", "scale": {"domain": [0.5, 7.4], "nice": false, "zero": false}, "axis": null},
        "y": {"field": "hi", "type": "quantitative", "scale": {"domain": [0, 4.1], "nice": false, "zero": false}, "axis": null},
        "stroke": {"field": "model", "type": "nominal", "scale": {"domain": ["POWHEG", "aMC@NLO", "FONLL"], "range": ["#000000", "#cc0000", "#0000cc"]}}
      }
    },
    {
      "transform": [{"filter": "datum.model !== 'POWHEG'"}],
      "mark": {"type": "line", "clip": true, "strokeWidth": 2.5},
      "encoding": {
        "x": {"field": "pt", "type": "quantitative", "scale": {"domain": [0.5, 7.4], "nice": false, "zero": false}, "axis": null},
        "y": {"field": "lo", "type": "quantitative", "scale": {"domain": [0, 4.1], "nice": false, "zero": false}, "axis": null},
        "stroke": {"field": "model", "type": "nominal", "scale": {"domain": ["POWHEG", "aMC@NLO", "FONLL"], "range": ["#000000", "#cc0000", "#0000cc"]}}
      }
    },
    {
      "transform": [{"filter": "datum.model === 'FONLL'"}],
      "mark": {"type": "line", "clip": true, "strokeWidth": 2.5},
      "encoding": {
        "x": {"field": "pt", "type": "quantitative", "scale": {"domain": [0.5, 7.4], "nice": false, "zero": false}, "axis": null},
        "y": {"datum": 1, "type": "quantitative", "scale": {"domain": [0, 4.1], "nice": false, "zero": false}, "axis": null},
        "stroke": {"field": "model", "type": "nominal", "scale": {"domain": ["POWHEG", "aMC@NLO", "FONLL"], "range": ["#000000", "#cc0000", "#0000cc"]},
          "legend": {"orient": "none", "legendX": 510, "legendY": 7, "title": null, "symbolType": "stroke", "symbolSize": 2704, "symbolStrokeWidth": 3,
            "labelFontSize": 36, "labelLimit": 400, "labelOffset": 12, "labelExpr": "''", "rowPadding": 8, "padding": 4, "symbolOffset": 7, "zindex": 2}},
        "strokeDash": {"field": "model", "type": "nominal", "scale": {"domain": ["POWHEG", "aMC@NLO", "FONLL"], "range": [[1, 0], [6, 4], [6, 4]]},
          "legend": {"orient": "none", "legendX": 510, "legendY": 7, "title": null, "symbolType": "stroke", "symbolSize": 2704, "symbolStrokeWidth": 3,
            "labelFontSize": 36, "labelLimit": 400, "labelOffset": 12, "labelExpr": "''", "rowPadding": 8, "padding": 4, "symbolOffset": 7, "zindex": 2}}
      }
    },
    {
      "transform": [{"filter": "datum.model === 'POWHEG'"}],
      "mark": {"type": "line", "clip": true, "strokeWidth": 2.5},
      "encoding": {
        "x": {"field": "pt", "type": "quantitative", "scale": {"domain": [0.5, 7.4], "nice": false, "zero": false}, "axis": null},
        "y": {"datum": 1, "type": "quantitative", "scale": {"domain": [0, 4.1], "nice": false, "zero": false}, "axis": null},
        "stroke": {"field": "model", "type": "nominal", "scale": {"domain": ["POWHEG", "aMC@NLO", "FONLL"], "range": ["#000000", "#cc0000", "#0000cc"]},
          "legend": {"orient": "none", "legendX": 510, "legendY": 7, "title": null, "symbolType": "stroke", "symbolSize": 2704, "symbolStrokeWidth": 3,
            "labelFontSize": 36, "labelLimit": 400, "labelOffset": 12, "labelExpr": "''", "rowPadding": 8, "padding": 4, "symbolOffset": 7, "zindex": 2}},
        "strokeDash": {"field": "model", "type": "nominal", "scale": {"domain": ["POWHEG", "aMC@NLO", "FONLL"], "range": [[1, 0], [6, 4], [6, 4]]},
          "legend": {"orient": "none", "legendX": 510, "legendY": 7, "title": null, "symbolType": "stroke", "symbolSize": 2704, "symbolStrokeWidth": 3,
            "labelFontSize": 36, "labelLimit": 400, "labelOffset": 12, "labelExpr": "''", "rowPadding": 8, "padding": 4, "symbolOffset": 7, "zindex": 2}}
      }
    },
    {
      "transform": [{"filter": "datum.model === 'aMC@NLO'"}],
      "mark": {"type": "line", "clip": true, "strokeWidth": 2.5},
      "encoding": {
        "x": {"field": "pt", "type": "quantitative", "scale": {"domain": [0.5, 7.4], "nice": false, "zero": false}, "axis": null},
        "y": {"datum": 1, "type": "quantitative", "scale": {"domain": [0, 4.1], "nice": false, "zero": false}, "axis": null},
        "stroke": {"field": "model", "type": "nominal", "scale": {"domain": ["POWHEG", "aMC@NLO", "FONLL"], "range": ["#000000", "#cc0000", "#0000cc"]},
          "legend": {"orient": "none", "legendX": 510, "legendY": 7, "title": null, "symbolType": "stroke", "symbolSize": 2704, "symbolStrokeWidth": 3,
            "labelFontSize": 36, "labelLimit": 400, "labelOffset": 12, "labelExpr": "''", "rowPadding": 8, "padding": 4, "symbolOffset": 7, "zindex": 2}},
        "strokeDash": {"field": "model", "type": "nominal", "scale": {"domain": ["POWHEG", "aMC@NLO", "FONLL"], "range": [[1, 0], [6, 4], [6, 4]]},
          "legend": {"orient": "none", "legendX": 510, "legendY": 7, "title": null, "symbolType": "stroke", "symbolSize": 2704, "symbolStrokeWidth": 3,
            "labelFontSize": 36, "labelLimit": 400, "labelOffset": 12, "labelExpr": "''", "rowPadding": 8, "padding": 4, "symbolOffset": 7, "zindex": 2}}
      }
    }
  ],
  "resolve": {"axis": {"x": "independent", "y": "independent"}}
}
